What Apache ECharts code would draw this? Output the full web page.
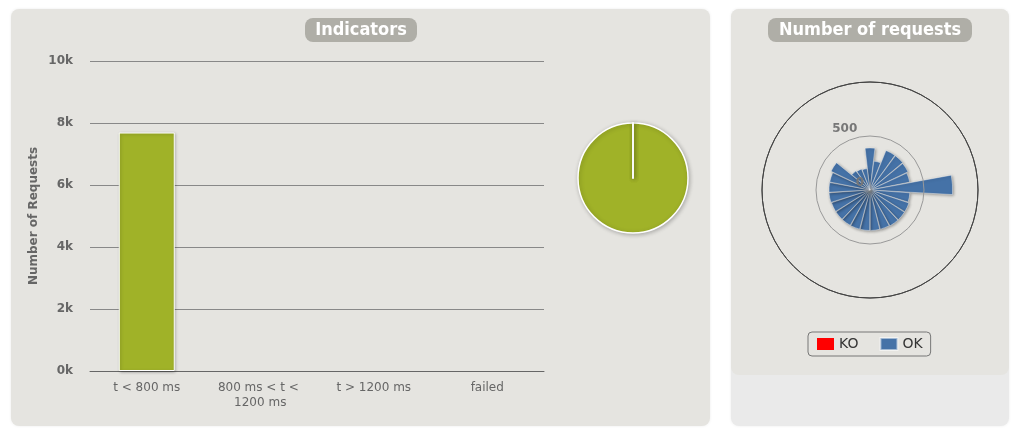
<!DOCTYPE html>
<html>
<head>
<meta charset="utf-8">
<script src="https://cdn.jsdelivr.net/npm/echarts@6/dist/echarts.min.js"></script>
<style>
html,body{margin:0;padding:0;background:#fff;}
#c{width:1024px;height:441px;}
</style>
</head>
<body>
<div id="c"></div>
<script>
// ---- data ----
const rangeCategories = ['t < 800 ms', '800 ms < t < 1200 ms', 't > 1200 ms', 'failed'];
const rangeCounts = [7693, 0, 0, 0];
const rangeColors = ['#A0B228', '#FFDD00', '#FF9916', '#FF0000'];
const yTicks = ['0k', '2k', '4k', '6k', '8k', '10k'];

const requestNames = [
  'req 1','req 2','req 3','req 4','req 5','req 6','req 7','req 8','req 9','req 10',
  'req 11','req 12','req 13','req 14','req 15','req 16','req 17','req 18','req 19','req 20',
  'req 21','req 22','req 23','req 24','req 25'
];
const requestsOK = [390, 270, 395, 395, 390, 375, 765, 370, 380, 380,
                    380, 375, 375, 375, 375, 375, 375, 375, 380, 380,
                    380, 400, 220, 210, 200];
const requestsKO = [0, 0, 0, 0, 0, 0, 0, 0, 0, 0,
                    0, 0, 0, 0, 0, 0, 0, 0, 0, 0,
                    0, 0, 0, 0, 0];

const FONT = 'DejaVu Sans';
const chart = echarts.init(document.getElementById('c'));
const step = 360 / requestNames.length;

function titleBox(cx, y, w, text) {
  return {
    type: 'group', z: 50,
    children: [
      {type: 'rect', shape: {x: cx - w / 2, y: y, width: w, height: 24, r: 8},
       style: {fill: '#AFAEA7'}},
      {type: 'text', x: cx, y: y + 12,
       style: {text: text, fill: '#fff', font: 'bold 18px "DejaVu Sans Condensed", "DejaVu Sans"',
               textAlign: 'center', textVerticalAlign: 'middle'}}
    ]
  };
}

chart.setOption({
  animation: false,
  graphic: [
    {type: 'rect', z: -100, shape: {x: 11, y: 9, width: 699, height: 417, r: 8},
     style: {fill: '#E5E4E0', shadowBlur: 3, shadowColor: 'rgba(0,0,0,0.08)'}},
    {type: 'rect', z: -100, shape: {x: 731, y: 9, width: 278, height: 417, r: 8},
     style: {fill: '#EAEAEA', shadowBlur: 3, shadowColor: 'rgba(0,0,0,0.08)'}},
    {type: 'rect', z: -99, shape: {x: 731, y: 9, width: 278, height: 366, r: 8},
     style: {fill: '#E5E4E0'}},
    titleBox(361, 18, 112, 'Indicators'),
    titleBox(870, 18, 204, 'Number of requests')
  ],
  legend: {
    data: ['KO', 'OK'],
    left: 808, top: 332,
    borderColor: '#777', borderWidth: 1, borderRadius: 4,
    padding: [5, 8, 5, 9],
    itemWidth: 17, itemHeight: 12, itemGap: 21,
    icon: 'rect',
    textStyle: {fontFamily: FONT, fontSize: 14, color: '#333'}
  },
  grid: {left: 90, right: 480, top: 61, bottom: 70},
  xAxis: {
    type: 'category',
    data: rangeCategories,
    axisLine: {lineStyle: {color: '#666'}},
    axisTick: {length: 10, lineStyle: {color: '#666'}},
    axisLabel: {
      fontFamily: FONT, fontSize: 12, color: '#666', margin: 9, lineHeight: 15,
      interval: 0, width: 100, overflow: 'break'
    }
  },
  yAxis: {
    type: 'value', min: 0, max: 10000, interval: 2000,
    name: 'Number of Requests', nameLocation: 'middle', nameGap: 50,
    nameTextStyle: {fontFamily: FONT, fontSize: 12, fontWeight: 'bold', color: '#666'},
    axisLabel: {
      fontFamily: FONT, fontSize: 12, fontWeight: 'bold', color: '#666', margin: 17,
      formatter: (v) => yTicks[v / 2000]
    },
    splitLine: {lineStyle: {color: '#888'}}
  },
  polar: {center: [870, 190], radius: 108},
  angleAxis: {
    type: 'category', data: requestNames,
    startAngle: 90 + step / 2, clockwise: true,
    axisLine: {show: true, lineStyle: {color: '#444', width: 1}},
    axisTick: {show: false}, axisLabel: {show: false}, splitLine: {show: false}
  },
  radiusAxis: {
    min: 0, max: 1000, interval: 500,
    axisLine: {show: false}, axisTick: {show: false},
    axisLabel: {
      fontFamily: FONT, fontSize: 12, fontWeight: 'bold', color: '#777',
      showMinLabel: true, verticalAlign: 'bottom', lineHeight: 16, margin: 6,
      formatter: (v) => (v === 1000 ? '' : String(v))
    },
    splitLine: {show: true, lineStyle: {color: ['#999', '#999', '#444']}},
    z: 100
  },
  series: [
    {
      type: 'bar', coordinateSystem: 'cartesian2d', barWidth: 56,
      data: rangeCounts.map((v, i) => ({
        value: v,
        itemStyle: v > 0
          ? {color: rangeColors[i], borderColor: '#fff', borderWidth: 1, shadowBlur: 3,
             shadowColor: 'rgba(0,0,0,0.25)', shadowOffsetX: 1, shadowOffsetY: 1}
          : {color: rangeColors[i], borderWidth: 0, shadowBlur: 0, opacity: 0}
      }))
    },
    {
      type: 'pie', center: [633, 178], radius: 55,
      data: rangeCategories.map((c, i) => ({name: c, value: rangeCounts[i], itemStyle: {color: rangeColors[i]}})),
      label: {show: false}, labelLine: {show: false}, startAngle: 90,
      itemStyle: {borderColor: '#fff', borderWidth: 1.5, shadowBlur: 4,
                  shadowColor: 'rgba(0,0,0,0.25)', shadowOffsetX: 1, shadowOffsetY: 1}
    },
    {
      name: 'KO', type: 'bar', coordinateSystem: 'polar', stack: 'req',
      data: requestsKO, itemStyle: {color: '#FF0000'}, barCategoryGap: '6%'
    },
    {
      name: 'OK', type: 'bar', coordinateSystem: 'polar', stack: 'req',
      data: requestsOK, barCategoryGap: '6%',
      itemStyle: {color: '#4572A7', borderColor: 'rgba(255,255,255,0.5)', borderWidth: 0.8,
                  shadowBlur: 3, shadowColor: 'rgba(0,0,0,0.35)', shadowOffsetX: 1, shadowOffsetY: 1}
    }
  ]
});
</script>
</body>
</html>
